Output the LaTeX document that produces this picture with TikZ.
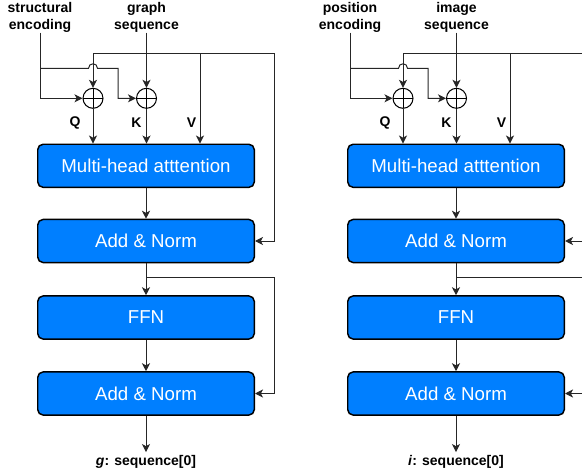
\documentclass[tikz,border=0pt]{standalone}
\usepackage{fontspec}
\setmainfont{Liberation Sans}
\usetikzlibrary{arrows.meta}
\definecolor{boxblue}{RGB}{0,127,255}
\begin{document}
\begin{tikzpicture}[x=0.75pt,y=-0.75pt,
  block/.style={draw=black, line width=1.1pt, fill=boxblue, rounded corners=4pt,
    minimum width=162.4pt, minimum height=32.3pt, inner sep=0pt, text=white,
    font=\fontsize{14}{16}\selectfont},
  lbl/.style={font=\bfseries\fontsize{10.5}{12.4}\selectfont, inner sep=0pt, align=center},
  conn/.style={line width=0.75pt, draw=black!85},
  arr/.style={conn, -{Stealth[length=6pt,width=6pt,inset=1.6pt]}},
  sumnode/.style={circle, draw=black, line width=0.75pt, minimum size=15pt, inner sep=0pt,
    path picture={\draw[line width=0.6pt]
      (path picture bounding box.north) -- (path picture bounding box.south)
      (path picture bounding box.west) -- (path picture bounding box.east);}}
]
\useasboundingbox (0,0) rectangle (582,474);
\clip (0,0) rectangle (582,474);
\foreach \p/\dx/\enc/\seq/\res in {
  L/0/{structural\\encoding}/{graph\\sequence}/{\textit{g}: sequence[0]},
  R/310/{position\\encoding}/{image\\sequence}/{\textit{i}: sequence[0]}} {
\begin{scope}[shift={(\dx,0)}]
  % encoder blocks
  \node[block] (\p mha) at (146,165.8) {Multi-head atttention};
  \node[block] (\p anA) at (146,241) {Add \& Norm};
  \node[block] (\p ffn) at (146,317.5) {FFN};
  \node[block] (\p anB) at (146,393.5) {Add \& Norm};
  % positional sums
  \node[sumnode] (\p sq) at (93,98.3) {};
  \node[sumnode] (\p sk) at (146.5,98.3) {};
  % labels
  \node[lbl] (\p enc) at (40,17.5) {\enc};
  \node[lbl] (\p seq) at (146.5,17.5) {\seq};
  \node[lbl] (\p ql) at (75,123) {Q};
  \node[lbl] (\p kl) at (136.5,123) {K};
  \node[lbl] (\p vl) at (191.5,123) {V};
  \node[lbl, inner sep=2pt] (\p out) at (146,461.5) {\res};
  % routing points
  \coordinate (\p top) at (93,54);
  \coordinate (\p vtop) at (200,54);
  \coordinate (\p rtop) at (274,54);
  \coordinate (\p br) at (40,68.3);
  \coordinate (\p kin) at (118,68.3);
  \coordinate (\p mid) at (146,277);
  \coordinate (\p rmid) at (274,277);
  % encoding into the two sums
  \draw[arr] (\p enc.south) |- (\p sq.west);
  \draw[arr] (\p br) -- (88.5,68.3) .. controls (88.5,62.3) and (97.5,62.3) .. (97.5,68.3)
    -- (\p kin) |- (\p sk.west);
  % sequence input: Q, K, V and residual
  \draw[arr] (\p seq.south) -- (\p sk.north);
  \draw[arr] (\p top) -- (\p sq.north);
  \draw[arr] (\p top) -- (\p rtop) |- (\p anA.east);
  \draw[arr] (\p vtop) -- (\p vtop |- \p mha.north);
  \draw[arr] (\p sq.south) -- (\p sq.south |- \p mha.north);
  \draw[arr] (\p sk.south) -- (\p sk.south |- \p mha.north);
  % main stack
  \draw[arr] (\p mha) -- (\p anA);
  \draw[arr] (\p anA) -- (\p ffn);
  \draw[arr] (\p mid) -- (\p rmid) |- (\p anB.east);
  \draw[arr] (\p ffn) -- (\p anB);
  \draw[arr] (\p anB) -- (\p out);
\end{scope}
}
\end{tikzpicture}
\end{document}
